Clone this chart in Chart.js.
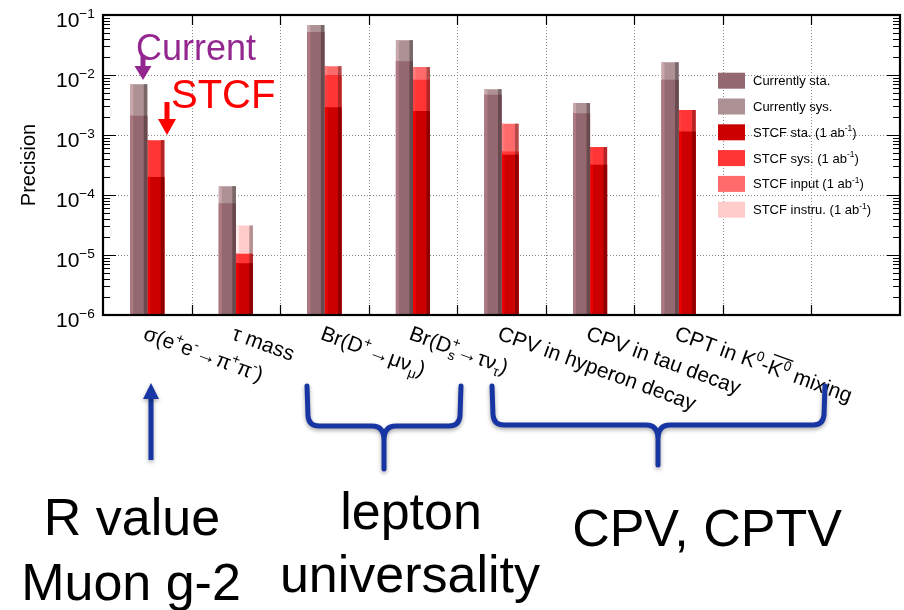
<!DOCTYPE html>
<html lang="en">
<head>
<meta charset="UTF-8">
<title>Precision: current vs STCF</title>
<script src="https://cdn.jsdelivr.net/npm/chart.js"></script>
<style>
    body { margin: 0; background: #fff; }
    #wrap { width: 904px; height: 610px; }
</style>
</head>
<body>
<div id="wrap"><canvas id="chart" width="904" height="610"></canvas></div>
<script>
// categories (^{..} = superscript, _{..} = subscript, [..] = overline)
const categories = [
    'σ(e^{+}e^{-}→π^{+}π^{-})',
    'τ mass',
    'Br(D^{+}→μν_{μ})',
    'Br(D_{s}^{+}→τν_{τ})',
    'CPV in hyperon decay',
    'CPV in tau decay',
    'CPT in K^{0}-[K^{0}] mixing',
    '',
    ''
];

// bar tops
const currentSta = [2.1e-3, 7.3e-5, 0.052, 0.017, 4.7e-3, 2.3e-3, 8.3e-3, null, null];
const currentSys = [7.0e-3, 1.4e-4, 0.068, 0.038, 5.8e-3, 3.4e-3, 1.63e-2, null, null];
const stcfSta    = [2.0e-4, 7.3e-6, 2.9e-3, 2.5e-3, 4.7e-4, 3.2e-4, 1.14e-3, null, null];
const stcfSys    = [8.2e-4, 1.05e-5, 1.0e-2, 8.3e-3, 5.3e-4, 6.3e-4, 2.6e-3, null, null];
const stcfInput  = [null, null, 1.4e-2, 1.36e-2, 1.54e-3, null, null, null, null];
const stcfInstru = [null, 3.1e-5, null, null, null, null, null, null, null];

const yTickValues = [1e-1, 1e-2, 1e-3, 1e-4, 1e-5, 1e-6];
const yTickLabels = ['10^{−1}', '10^{−2}', '10^{−3}', '10^{−4}', '10^{−5}', '10^{−6}'];
const yTitle = 'Precision';

const groupNotes = [
    { lines: ['R value', 'Muon g-2'] },
    { lines: ['lepton', 'universality'] },
    { lines: ['CPV, CPTV'] }
];

const FONT = '"Liberation Sans", Arial, Helvetica, sans-serif';

function drawRich(ctx, text, x, y, size) {
    let cx = x, i = 0, subStart = null, subEnd = -1, barStart = null;
    const small = size * 0.65;
    while (i < text.length) {
        const ch = text[i];
        if ((ch === '^' || ch === '_') && text[i + 1] === '{') {
            const end = text.indexOf('}', i);
            const s = text.slice(i + 2, end);
            ctx.font = small + 'px ' + FONT;
            let sx = cx;
            if (ch === '^' && subEnd === i) sx = subStart;
            const dy = ch === '^' ? -size * 0.42 : size * 0.24;
            ctx.fillText(s, sx, y + dy);
            const w = ctx.measureText(s).width;
            if (ch === '_') { subStart = cx; subEnd = end + 1; cx += w; }
            else cx = Math.max(cx, sx + w);
            i = end + 1;
            continue;
        }
        if (ch === '[') { barStart = cx; i++; continue; }
        if (ch === ']') {
            ctx.save();
            ctx.lineWidth = 1.3;
            ctx.strokeStyle = ctx.fillStyle;
            ctx.beginPath();
            ctx.moveTo(barStart + 1, y - size * 0.95);
            ctx.lineTo(cx, y - size * 0.95);
            ctx.stroke();
            ctx.restore();
            i++;
            continue;
        }
        let j = i;
        while (j < text.length && '^_[]'.indexOf(text[j]) === -1) j++;
        const s = text.slice(i, j);
        ctx.font = size + 'px ' + FONT;
        ctx.fillText(s, cx, y);
        cx += ctx.measureText(s).width;
        i = j;
    }
    return cx - x;
}

function shade(hex, f) {
    const n = parseInt(hex.slice(1), 16);
    const c = [(n >> 16) & 255, (n >> 8) & 255, n & 255].map(v => Math.max(0, Math.min(255, Math.round(v * f))));
    return `rgb(${c[0]},${c[1]},${c[2]})`;
}

function arrowV(ctx, x, yFrom, yTip, color, shaftW, headW, headL) {
    const dir = yTip > yFrom ? 1 : -1;
    ctx.fillStyle = color;
    ctx.fillRect(x - shaftW / 2, Math.min(yFrom, yTip - dir * headL), shaftW, Math.abs(yTip - dir * headL - yFrom));
    ctx.beginPath();
    ctx.moveTo(x - headW / 2, yTip - dir * headL);
    ctx.lineTo(x + headW / 2, yTip - dir * headL);
    ctx.lineTo(x, yTip);
    ctx.closePath();
    ctx.fill();
}

function brace(ctx, left, right, top, mid, tipX, tipY) {
    const r = 10;
    ctx.beginPath();
    ctx.moveTo(left, top);
    ctx.lineTo(left + 1, mid - r);
    ctx.quadraticCurveTo(left + 2, mid, left + r + 2, mid);
    ctx.lineTo(tipX - 12, mid);
    ctx.quadraticCurveTo(tipX, mid, tipX, mid + 14);
    ctx.lineTo(tipX, tipY);
    ctx.moveTo(right, top);
    ctx.lineTo(right - 1, mid - r);
    ctx.quadraticCurveTo(right - 2, mid, right - r - 2, mid);
    ctx.lineTo(tipX + 12, mid);
    ctx.quadraticCurveTo(tipX, mid, tipX, mid + 14);
    ctx.stroke();
}

const decor = {
    id: 'decor',
    beforeDatasetsDraw(chart) {
        const { ctx, chartArea: a, scales: { x, y } } = chart;
        ctx.save();
        ctx.strokeStyle = '#8a8a8a';
        ctx.lineWidth = 1;
        ctx.setLineDash([1, 2]);
        for (let i = 1; i < categories.length; i++) {
            const px = Math.round((x.getPixelForValue(i - 1) + x.getPixelForValue(i)) / 2) + 0.5;
            ctx.beginPath(); ctx.moveTo(px, a.top); ctx.lineTo(px, a.bottom); ctx.stroke();
        }
        yTickValues.forEach(v => {
            const py = Math.round(y.getPixelForValue(v)) + 0.5;
            ctx.beginPath(); ctx.moveTo(a.left, py); ctx.lineTo(a.right, py); ctx.stroke();
        });
        ctx.restore();
    },
    afterDatasetDraw(chart, args) {
        const ctx = chart.ctx;
        const color = chart.data.datasets[args.index].backgroundColor;
        ctx.save();
        args.meta.data.forEach(bar => {
            const { x, y, base, width } = bar.getProps(['x', 'y', 'base', 'width'], true);
            if (!isFinite(y) || !isFinite(base) || Math.abs(base - y) < 0.5) return;
            const top = Math.min(y, base), h = Math.abs(base - y), left = x - width / 2;
            ctx.fillStyle = shade(color, 1.16);
            ctx.fillRect(left, top, 3, h);
            ctx.fillStyle = shade(color, 0.7);
            ctx.fillRect(left + width - 3.5, top, 3.5, h);
        });
        ctx.restore();
    },
    afterDatasetsDraw(chart) {
        const { ctx, chartArea: a, scales: { x, y } } = chart;
        ctx.save();
        ctx.strokeStyle = '#000';
        ctx.lineWidth = 1.2;
        // category ticks top and bottom
        for (let i = 1; i < categories.length; i++) {
            const px = Math.round((x.getPixelForValue(i - 1) + x.getPixelForValue(i)) / 2) + 0.5;
            ctx.beginPath();
            ctx.moveTo(px, a.top); ctx.lineTo(px, a.top + 10);
            ctx.moveTo(px, a.bottom); ctx.lineTo(px, a.bottom - 10);
            ctx.stroke();
        }
        // log ticks left and right
        for (let k = -6; k <= -2; k++) {
            for (let m = 1; m <= 9; m++) {
                const py = Math.round(y.getPixelForValue(m * Math.pow(10, k))) + 0.5;
                const len = m === 1 ? 13 : 7;
                ctx.beginPath();
                ctx.moveTo(a.left, py); ctx.lineTo(a.left + len, py);
                ctx.moveTo(a.right, py); ctx.lineTo(a.right - len, py);
                ctx.stroke();
            }
        }
        ctx.lineWidth = 2.2;
        ctx.strokeRect(a.left, a.top, a.right - a.left, a.bottom - a.top);
        ctx.restore();
    },
    afterDraw(chart) {
        const { ctx, scales: { x, y } } = chart;
        ctx.save();
        ctx.textBaseline = 'alphabetic';
        ctx.textAlign = 'left';
        ctx.fillStyle = '#000';

        // y tick labels
        yTickValues.forEach((v, i) => {
            const py = y.getPixelForValue(v);
            drawRich(ctx, yTickLabels[i], 56, py + 12, 21);
        });

        // y title
        ctx.save();
        ctx.translate(35, 165);
        ctx.rotate(-Math.PI / 2);
        ctx.textAlign = 'center';
        ctx.font = '20px ' + FONT;
        ctx.fillText(yTitle, 0, 0);
        ctx.restore();

        // rotated category labels
        categories.forEach((lab, i) => {
            if (!lab) return;
            ctx.save();
            ctx.translate(x.getPixelForValue(i) - 5, 339);
            ctx.rotate(20 * Math.PI / 180);
            drawRich(ctx, lab, 0, 0, 21);
            ctx.restore();
        });

        // legend
        chart.data.datasets.forEach((ds, i) => {
            const top = 72.7 + i * 25.8;
            ctx.fillStyle = ds.backgroundColor;
            ctx.fillRect(718, top, 27, 16);
            ctx.fillStyle = '#000';
            drawRich(ctx, ds.label, 753, top + 12.5, 13);
        });

        // call-outs
        ctx.fillStyle = '#93278f';
        ctx.font = '36px ' + FONT;
        ctx.fillText('Current', 136, 60);
        arrowV(ctx, 143, 55, 80, '#93278f', 5, 17, 14);
        ctx.fillStyle = '#ff0000';
        ctx.font = '40px ' + FONT;
        ctx.fillText('STCF', 171, 108);
        arrowV(ctx, 167, 102, 135, '#ff0000', 5, 18, 16);

        // blue arrow and braces
        ctx.shadowColor = 'rgba(0,0,0,0.35)';
        ctx.shadowBlur = 4;
        ctx.shadowOffsetY = 2;
        arrowV(ctx, 151, 460, 383, '#1835a4', 5, 16, 16);
        ctx.strokeStyle = '#1835a4';
        ctx.lineWidth = 5;
        ctx.lineCap = 'round';
        ctx.lineJoin = 'round';
        brace(ctx, 307, 461, 386, 426, 384, 469);
        brace(ctx, 492, 825, 386, 425, 658, 465);
        ctx.shadowColor = 'transparent';

        // group captions
        ctx.fillStyle = '#000';
        ctx.textAlign = 'center';
        ctx.font = '52px ' + FONT;
        ctx.fillText(groupNotes[0].lines[0], 132, 535);
        ctx.fillText(groupNotes[0].lines[1], 131, 600);
        ctx.fillText(groupNotes[1].lines[0], 411, 529);
        ctx.fillText(groupNotes[1].lines[1], 410, 592);
        ctx.fillText(groupNotes[2].lines[0], 707, 546);
        ctx.restore();
    }
};

new Chart(document.getElementById('chart'), {
    type: 'bar',
    data: {
        labels: categories,
        datasets: [
            { label: 'Currently sta.', data: currentSta, stack: 'current', backgroundColor: '#946870' },
            { label: 'Currently sys.', data: currentSys, stack: 'current', backgroundColor: '#ad9195' },
            { label: 'STCF sta. (1 ab^{-1})', data: stcfSta, stack: 'stcf', backgroundColor: '#cc0000' },
            { label: 'STCF sys. (1 ab^{-1})', data: stcfSys, stack: 'stcf', backgroundColor: '#ff3535' },
            { label: 'STCF input (1 ab^{-1})', data: stcfInput, stack: 'stcf', backgroundColor: '#ff6a6a' },
            { label: 'STCF instru. (1 ab^{-1})', data: stcfInstru, stack: 'stcf', backgroundColor: '#ffcccc' }
        ]
    },
    options: {
        responsive: false,
        animation: false,
        layout: { padding: { top: 15, right: 4, left: 0, bottom: 0 } },
        datasets: { bar: { categoryPercentage: 0.385, barPercentage: 1.0 } },
        plugins: { legend: { display: false }, tooltip: { enabled: false } },
        scales: {
            x: {
                ticks: { display: false },
                grid: { display: false },
                border: { display: false },
                afterFit: s => { s.height = 295; }
            },
            y: {
                type: 'logarithmic',
                min: 1e-6,
                max: 1e-1,
                stacked: false,
                ticks: { display: false },
                grid: { display: false },
                border: { display: false },
                afterFit: s => { s.width = 103; }
            }
        }
    },
    plugins: [decor]
});
</script>
</body>
</html>
